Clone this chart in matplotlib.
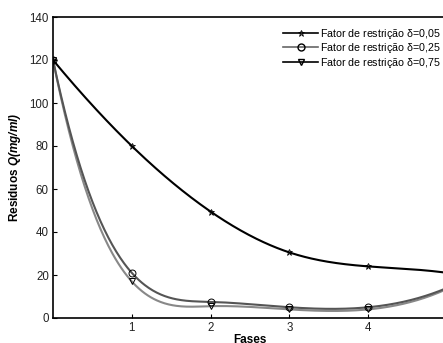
import numpy as np
import matplotlib
matplotlib.use("Agg")
import matplotlib.pyplot as plt
from matplotlib.lines import Line2D

plt.rcParams['font.family'] = ['Liberation Sans', 'DejaVu Sans']
plt.rcParams['mathtext.fontset'] = 'custom'
plt.rcParams['mathtext.rm'] = 'Liberation Sans'
plt.rcParams['mathtext.it'] = 'Liberation Sans:italic'
plt.rcParams['mathtext.bf'] = 'Liberation Sans:bold:italic'

fases = [0, 1, 2, 3, 4, 5]
serie_005 = [120, 80, 49.5, 30.5, 24, 21]
serie_025 = [120, 21, 7.5, 5, 5, 14]
serie_075 = [120, 17, 5.5, 4, 4, 13.5]
labels = ["0{,}05", "0{,}25", "0{,}75"]
yticks = [0, 20, 40, 60, 80, 100, 120, 140]
xticks = [1, 2, 3, 4]


def spline_curve(x, y, num=400):
    # not-a-knot cubic spline (as MATLAB's spline) used only to draw the smooth line
    x = np.asarray(x, float); y = np.asarray(y, float)
    n = len(x)
    h = np.diff(x)
    A = np.zeros((n, n)); b = np.zeros(n)
    A[0, 0], A[0, 1], A[0, 2] = h[1], -(h[0] + h[1]), h[0]
    A[-1, -3], A[-1, -2], A[-1, -1] = h[-1], -(h[-2] + h[-1]), h[-2]
    for i in range(1, n - 1):
        A[i, i - 1] = h[i - 1]
        A[i, i] = 2 * (h[i - 1] + h[i])
        A[i, i + 1] = h[i]
        b[i] = 6 * ((y[i + 1] - y[i]) / h[i] - (y[i] - y[i - 1]) / h[i - 1])
    M = np.linalg.solve(A, b)
    xs = np.linspace(x[0], x[-1], num)
    idx = np.clip(np.searchsorted(x, xs) - 1, 0, n - 2)
    x0, x1 = x[idx], x[idx + 1]
    hh = x1 - x0
    ys = (M[idx] * (x1 - xs) ** 3 / (6 * hh) + M[idx + 1] * (xs - x0) ** 3 / (6 * hh)
          + (y[idx] / hh - M[idx] * hh / 6) * (x1 - xs)
          + (y[idx + 1] / hh - M[idx + 1] * hh / 6) * (xs - x0))
    return xs, ys


fig = plt.figure(figsize=(4.43, 3.43), dpi=100)
ax = fig.add_axes([53 / 443, 25 / 343, 394 / 443, 301 / 343])

lw = 1.5
c1, c2, c3 = 'black', '#555555', '#888888'
xs, ys = spline_curve(fases, serie_075)
ax.plot(xs, ys, color=c3, lw=lw)
xs, ys = spline_curve(fases, serie_025)
ax.plot(xs, ys, color=c2, lw=lw)
xs, ys = spline_curve(fases, serie_005)
ax.plot(xs, ys, color=c1, lw=lw)

ms = 5
ax.plot(fases, serie_005, ls='none', marker='*', ms=ms, mfc='none', mec='black', mew=0.6)
ax.plot(fases, serie_025, ls='none', marker='o', ms=ms, mfc='none', mec='black', mew=0.7)
ax.plot(fases, serie_075, ls='none', marker='v', ms=ms, mfc='none', mec='black', mew=0.7)

ax.set_xlim(0, 5)
ax.set_ylim(0, 140)
ax.set_xticks(xticks)
ax.set_yticks(yticks)
ax.tick_params(direction='in', length=3, labelsize=8.3, width=0.8, pad=3, labelcolor='#222222')
for s in ax.spines.values():
    s.set_linewidth(1.2)

ax.set_xlabel('Fases', fontsize=8.5, fontweight='bold', labelpad=0)
ax.set_ylabel(r'Residuos $\mathbf{Q(mg/ml)}$', fontsize=8.5, fontweight='bold', labelpad=5)

handles = [
    Line2D([], [], color='black', lw=1.2, marker='*', ms=5, mfc='none', mec='black', mew=0.6),
    Line2D([], [], color='#666666', lw=1.2, marker='o', ms=5, mfc='none', mec='black'),
    Line2D([], [], color='black', lw=1.2, marker='v', ms=5, mfc='none', mec='black'),
]
leg_labels = ['Fator de restrição δ=$\\mathit{%s}$' % l for l in labels]
ax.legend(handles, leg_labels, loc='upper left', bbox_to_anchor=(230 / 394, 0.968),
          frameon=False, fontsize=7.7, handlelength=3.3, handletextpad=0.2, labelspacing=0.05,
          borderaxespad=0.0, borderpad=0.0)

fig.savefig('out.png', dpi=100)
